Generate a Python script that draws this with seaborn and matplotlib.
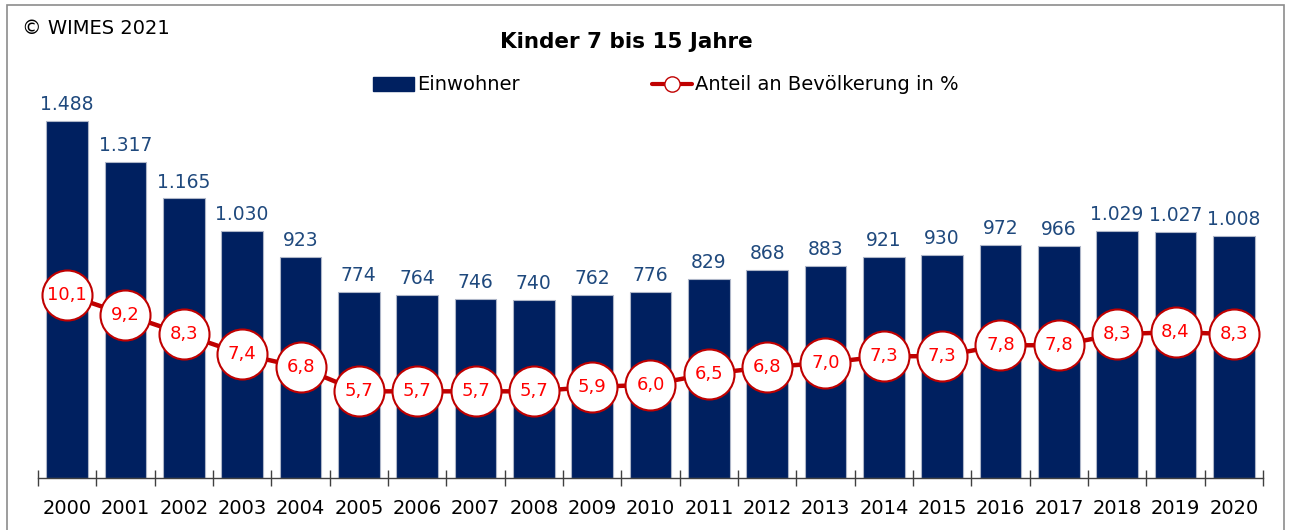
import matplotlib
matplotlib.use('Agg')
import matplotlib.pyplot as plt
import seaborn as sns
import numpy as np
from matplotlib.lines import Line2D
from matplotlib.patches import Patch, Rectangle

# Data
years = [str(y) for y in range(2000, 2021)]
einwohner = [1488, 1317, 1165, 1030, 923, 774, 764, 746, 740, 762, 776,
             829, 868, 883, 921, 930, 972, 966, 1029, 1027, 1008]
anteil = [10.1, 9.2, 8.3, 7.4, 6.8, 5.7, 5.7, 5.7, 5.7, 5.9, 6.0,
          6.5, 6.8, 7.0, 7.3, 7.3, 7.8, 7.8, 8.3, 8.4, 8.3]

BAR_COLOR = "#002060"
LINE_COLOR = "#C00000"
LABEL_BLUE = "#1F497D"

sns.set_style("white")
plt.rcParams['font.family'] = ['DejaVu Sans']
plt.rcParams['text.color'] = 'black'
plt.rcParams['xtick.color'] = 'black'

fig = plt.figure(figsize=(12.9, 5.3), dpi=100)
ax = fig.add_axes([38 / 1290, 1 - 478 / 530, (1263 - 38) / 1290, (478 - 60) / 530])

sns.barplot(x=years, y=einwohner, color=BAR_COLOR, width=0.71, ax=ax,
            edgecolor="#AEB6C8", linewidth=0.8, saturation=1)
ax.set_xlim(-0.5, len(years) - 0.5)
ax.set_ylim(0, 1742)
ax.set_xlabel("")
ax.set_ylabel("")
ax.set_yticks([])

# bar value labels (German thousands separator)
for i, v in enumerate(einwohner):
    ax.annotate(f"{v:,}".replace(",", "."), (i, v), xytext=(0, 5),
                textcoords="offset points", ha="center", va="bottom",
                fontsize=13.5, color=LABEL_BLUE)

for side in ["top", "left", "right"]:
    ax.spines[side].set_visible(False)
ax.spines["bottom"].set_color("#404040")
ax.spines["bottom"].set_linewidth(1.0)

ax.set_xticks(np.arange(len(years)))
ax.set_xticklabels(years, fontsize=14)
ax.tick_params(axis="x", which="major", bottom=True, length=0, pad=15)
ax.set_xticks(np.arange(-0.5, len(years)), minor=True)
ax.tick_params(axis="x", which="minor", bottom=True, direction="inout",
               length=11, width=1.0, color="#404040")

# share line on a secondary axis
ax2 = ax.twinx()
xs = np.arange(len(years))
ax2.plot(xs, anteil, color=LINE_COLOR, linewidth=3.2, marker="o",
         markersize=36, markerfacecolor="white", markeredgecolor=LINE_COLOR,
         markeredgewidth=1.5, zorder=3)
ax2.set_ylim(1.75, 20.8)
ax2.set_yticks([])
for side in ["top", "left", "right", "bottom"]:
    ax2.spines[side].set_visible(False)
for i, v in enumerate(anteil):
    ax2.text(i, v, f"{v:.1f}".replace(".", ","), ha="center", va="center",
             fontsize=13, color="#FF0000", zorder=4)

# title, copyright, legend
fig.text(626 / 1290, 1 - 42 / 530, "Kinder 7 bis 15 Jahre", ha="center",
         va="center", fontsize=15.5, fontweight="bold")
fig.text(22 / 1290, 1 - 28 / 530, "© WIMES 2021", ha="left", va="center",
         fontsize=14)

handles = [
    Patch(facecolor=BAR_COLOR, edgecolor=BAR_COLOR),
    Line2D([0], [0], color=LINE_COLOR, linewidth=3, marker="o", markersize=11,
           markerfacecolor="white", markeredgecolor=LINE_COLOR),
]
fig.legend(handles, ["Einwohner", "Anteil an Bevölkerung in %"],
           loc="center", bbox_to_anchor=(666 / 1290, 1 - 85 / 530), ncol=2,
           frameon=False, fontsize=14, handlelength=2.1, handletextpad=0.15,
           columnspacing=6.8)

# outer frame
fig.patches.append(Rectangle((7 / 1290, -0.05), (1284 - 7) / 1290, 1.05 - 5 / 530,
                             transform=fig.transFigure, fill=False,
                             edgecolor="#8C8C8C", linewidth=1.2))

fig.savefig("out.png", dpi=100)
plt.close(fig)
